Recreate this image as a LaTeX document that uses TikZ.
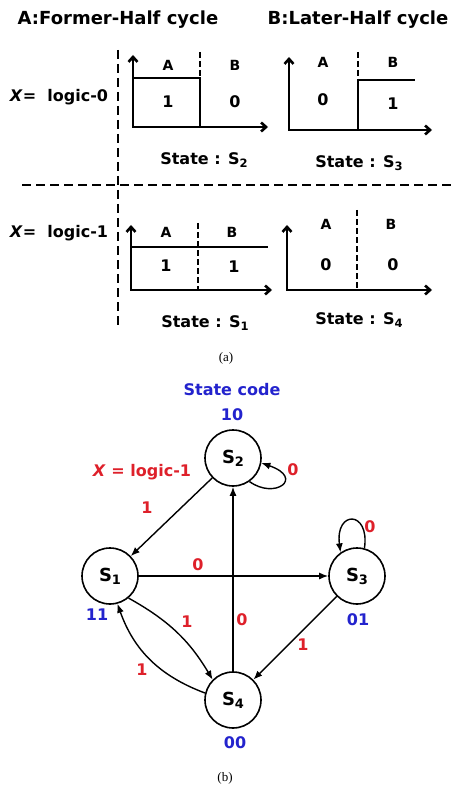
\documentclass[tikz,border=0pt]{standalone}
\usepackage{fontspec}
\setmainfont{DejaVu Sans}
\newfontfamily\captionfont{Liberation Serif}
\usetikzlibrary{arrows.meta}

\definecolor{codeblue}{RGB}{35,35,205}
\definecolor{inputred}{RGB}{222,32,42}

\newcommand{\lowidx}[1]{\raisebox{-0.3ex}{\scalebox{0.72}{#1}}}

\begin{document}
\begin{tikzpicture}[x=1pt, y=1pt,
  font=\bfseries\fontsize{16}{18}\selectfont,
  axis/.style={line width=2.6pt, {Straight Barb[length=5pt,width=9pt]}-{Straight Barb[length=5pt,width=9pt]}},
  level/.style={line width=2.6pt},
  divider/.style={line width=2.6pt, dash pattern=on 6pt off 3pt},
  splitline/.style={line width=2.8pt, dash pattern=on 9pt off 5pt},
  halftag/.style={font=\bfseries\fontsize{14}{16}\selectfont},
  state/.style={circle, draw, line width=1.6pt, minimum size=56pt, inner sep=0pt, font=\bfseries\fontsize{18}{20}\selectfont},
  edge/.style={line width=1.4pt, -{Latex[length=9pt,width=7pt]}},
  code/.style={text=codeblue},
  lbl/.style={text=inputred}]

  \useasboundingbox (0,0) rectangle (452,-786);

  % (a) timing of the two half cycles
  \node (titleA) at (118,-20) {\fontsize{18}{20}\selectfont A:Former-Half cycle};
  \node (titleB) at (358,-20) {\fontsize{18}{20}\selectfont B:Later-Half cycle};

  \draw[splitline] (118,-50) -- (118,-327);
  \draw[splitline] (22,-185) -- (452,-185);

  \node (x0) at (59,-97) {\textit{X}=\ \ logic-0};
  \node (x1) at (59,-233) {\textit{X}=\ \ logic-1};

  % S2
  \draw[axis] (133,-55) -- (133,-127) -- (268,-127);
  \draw[level] (133,-78) -- (200,-78) -- (200,-127);
  \draw[divider] (200,-52) -- (200,-78);
  % S3
  \draw[axis] (289,-57) -- (289,-130) -- (432,-130);
  \draw[level] (358,-130) -- (358,-80) -- (415,-80);
  \draw[divider] (358,-52) -- (358,-80);
  % S1
  \draw[axis] (131,-225) -- (131,-290) -- (272,-290);
  \draw[level] (131,-247) -- (268,-247);
  \draw[divider] (198,-223) -- (198,-290);
  % S4
  \draw[axis] (287,-225) -- (287,-290) -- (432,-290);
  \draw[divider] (357,-210) -- (357,-290);

  \foreach \xa/\xb/\y in {168/235/65, 323/393/62, 166/232/232, 326/391/224}
    {\node[halftag] (tagA\xa) at (\xa,-\y) {A};
     \node[halftag] (tagB\xb) at (\xb,-\y) {B};}

  \foreach \x/\y/\v in {168/102/1, 235/102/0, 323/100/0, 393/104/1,
                        166/266/1, 234/267/1, 326/265/0, 393/265/0}
    \node (bit\x) at (\x,-\y) {\v};

  \node (stS2) at (204,-160) {State : S\lowidx{2}};
  \node (stS3) at (359,-163) {State : S\lowidx{3}};
  \node (stS1) at (205,-323) {State : S\lowidx{1}};
  \node (stS4) at (359,-320) {State : S\lowidx{4}};

  \node[font=\captionfont\fontsize{13}{15}\selectfont] (capA) at (226,-358) {(a)};

  % (b) state diagram
  \node[state] (s2) at (233,-458) {S\lowidx{2}};
  \node[state] (s1) at (110,-576) {S\lowidx{1}};
  \node[state] (s3) at (357,-576) {S\lowidx{3}};
  \node[state] (s4) at (233,-700) {S\lowidx{4}};

  \node[code] (codehead) at (232,-390) {State code};
  \node[code] (code2) at (232,-415) {10};
  \node[code] (code1) at (97,-615) {11};
  \node[code] (code3) at (358,-620) {01};
  \node[code] (code4) at (235,-743) {00};

  \node[lbl] (xin) at (142,-472) {\textit{X} = logic-1};

  \draw[edge] (s2.-55) .. controls (275,-500) and (305,-478) .. (s2.-10);
  \draw[edge] (s3.75) .. controls (370,-510) and (335,-510) .. (s3.125);
  \draw[edge] (s2) -- (s1);
  \draw[edge] (s1) -- (s3);
  \draw[edge] (s4) -- (s2);
  \draw[edge] (s3) -- (s4);
  \draw[edge] (s1.-50) to[bend left=15] (s4.135);
  \draw[edge] (s4.166) to[bend left=25] (s1.-75);

  \node[lbl] (l22) at (293,-470) {0};
  \node[lbl] (l21) at (147,-508) {1};
  \node[lbl] (l33) at (370,-527) {0};
  \node[lbl] (l13) at (198,-565) {0};
  \node[lbl] (l42) at (242,-620) {0};
  \node[lbl] (l34) at (303,-645) {1};
  \node[lbl] (l14) at (187,-622) {1};
  \node[lbl] (l41) at (142,-670) {1};

  \node[font=\captionfont\fontsize{13}{15}\selectfont] (capB) at (225,-778) {(b)};

\end{tikzpicture}
\end{document}
